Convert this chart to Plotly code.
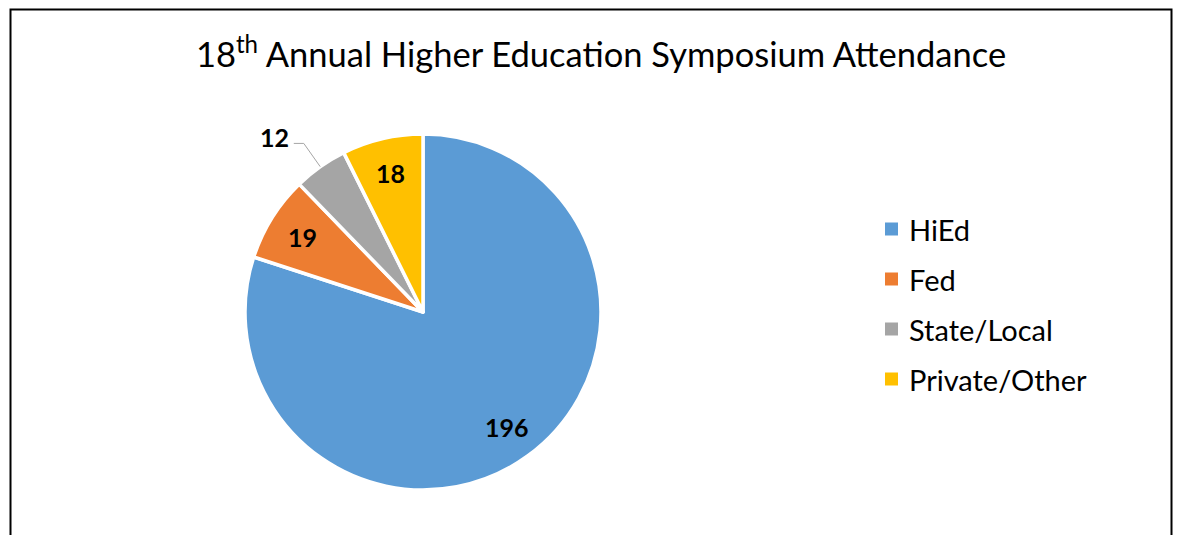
import math
import plotly.graph_objects as go

labels = ["HiEd", "Fed", "State/Local", "Private/Other"]
values = [196, 19, 12, 18]
colors = ["#5B9BD5", "#ED7D31", "#A5A5A5", "#FFC000"]
label_outside = [False, False, True, False]
title_text = "18<sup>th</sup> Annual Higher Education Symposium Attendance"

W, H = 1182, 535
OFF = 8  # page body margin
cx, cy, r = 423, 312, 178


def px(x):
    return (x - OFF) / W


def py(y):
    return 1 - (y - OFF) / H


fig = go.Figure(go.Pie(
    labels=labels,
    values=values,
    sort=False,
    direction="clockwise",
    rotation=0,
    marker=dict(colors=colors, line=dict(color="white", width=3.5)),
    textinfo="none",
    domain=dict(x=[px(cx - r), px(cx + r)], y=[py(cy + r), py(cy - r)]),
    hoverinfo="label+value",
    showlegend=False,
))

annotations = []
shapes = [dict(type="rect", xref="paper", yref="paper",
               x0=px(10.5), x1=px(1171.5), y0=-0.2, y1=py(9.5),
               line=dict(color="black", width=2))]

# data labels, placed from each slice's mid-angle
total = sum(values)
cum = 0
label_font = dict(family="Lato", size=25, color="black", weight="bold")
for lab, v, outside in zip(labels, values, label_outside):
    mid = 2 * math.pi * (cum + v / 2) / total
    cum += v
    s, c = math.sin(mid), math.cos(mid)
    if not outside:
        x, y = cx + 0.8 * r * s, cy - 0.8 * r * c
        annotations.append(dict(x=px(x), y=py(y), xref="paper", yref="paper",
                                text=str(v), showarrow=False, font=label_font,
                                xanchor="center", yanchor="middle"))
    else:
        ex, ey = cx + 1.0 * r * s, cy - 1.0 * r * c
        kx, ky = cx + 1.16 * r * s, cy - 1.16 * r * c
        hx = kx - 10
        shapes.append(dict(type="path", xref="paper", yref="paper",
                           path=f"M {px(ex)} {py(ey)} L {px(kx)} {py(ky)} L {px(hx)} {py(ky)}",
                           line=dict(color="#A5A5A5", width=1)))
        annotations.append(dict(x=px(hx - 3), y=py(ky - 6), xref="paper", yref="paper",
                                text=str(v), showarrow=False, font=label_font,
                                xanchor="right", yanchor="middle"))

# legend
leg_x, leg_y0, leg_dy, sq = 885, 229, 50, 13
for i, (lab, col) in enumerate(zip(labels, colors)):
    yc = leg_y0 + i * leg_dy
    shapes.append(dict(type="rect", xref="paper", yref="paper",
                       x0=px(leg_x), x1=px(leg_x + sq), y0=py(yc + sq / 2), y1=py(yc - sq / 2),
                       fillcolor=col, line=dict(width=0)))
    annotations.append(dict(x=px(leg_x + 22), y=py(yc), xref="paper", yref="paper",
                            text=lab, showarrow=False, xanchor="left", yanchor="middle",
                            font=dict(family="Lato", size=29, color="black")))

fig.update_layout(
    width=W, height=H,
    margin=dict(l=0, r=0, t=0, b=0),
    paper_bgcolor="white",
    title=dict(text=title_text, x=px(601), xanchor="center", y=py(55), yanchor="middle",
               font=dict(family="Lato", size=34.5, color="black")),
    shapes=shapes,
    annotations=annotations,
)

fig.write_html("out.html")
